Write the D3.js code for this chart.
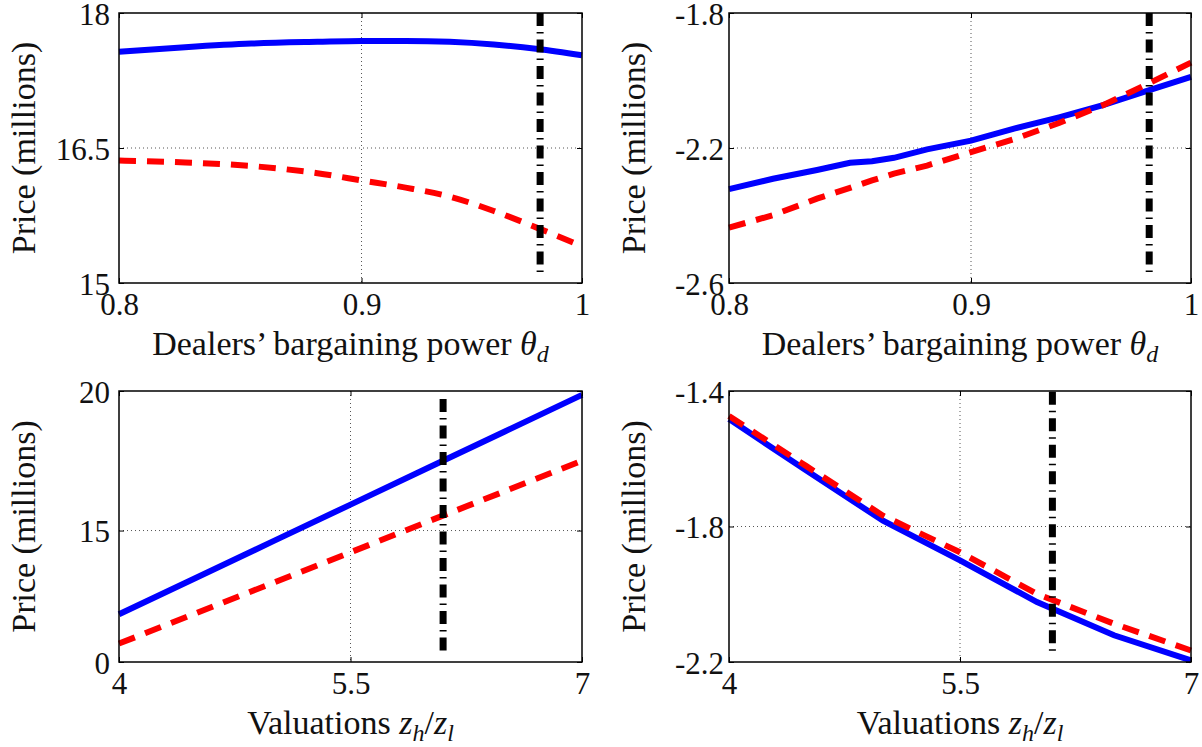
<!DOCTYPE html>
<html>
<head>
<meta charset="utf-8">
<script src="https://cdn.jsdelivr.net/npm/d3@7"></script>
<style>
  body { margin: 0; background: #fff; }
  svg { display: block; font-family: "Liberation Serif", "DejaVu Serif", serif; }
</style>
</head>
<body>
<svg id="fig" width="1202" height="747"></svg>
<script>

// ---- values ----

// top row: dealers' bargaining power
var thetaA  = [0.79, 0.82, 0.85, 0.88, 0.90, 0.92, 0.94, 0.96, 0.98, 1.00];
var solidA  = [17.57, 17.62, 17.66, 17.68, 17.69, 17.69, 17.68, 17.65, 17.60, 17.53];
var dashedA = [16.36, 16.34, 16.30, 16.22, 16.14, 16.06, 15.96, 15.80, 15.61, 15.41];

var thetaB  = [0.79, 0.81, 0.83, 0.845, 0.855, 0.865, 0.88, 0.90, 0.92, 0.94, 0.96, 0.98, 1.00];
var solidB  = [-2.322, -2.291, -2.265, -2.244, -2.239, -2.229, -2.204, -2.178, -2.142, -2.109, -2.073, -2.031, -1.989];
var dashedB = [-2.436, -2.399, -2.350, -2.318, -2.296, -2.276, -2.252, -2.212, -2.173, -2.126, -2.073, -2.011, -1.947];

// bottom row: valuations z_h / z_l
var zC      = [4, 4.5, 5, 5.5, 6, 6.5, 7];
var solidC  = [12.00, 13.31, 14.62, 15.93, 17.24, 18.55, 19.86];
var dashedC = [10.95, 12.04, 13.13, 14.22, 15.32, 16.41, 17.50];

var zD      = [4, 4.5, 5, 5.5, 6, 6.5, 7];
var solidD  = [-1.483, -1.634, -1.783, -1.900, -2.023, -2.121, -2.195];
var dashedD = [-1.474, -1.621, -1.768, -1.876, -1.999, -2.087, -2.166];

// vertical dash-dot marker (x, from, to)
var vlineA = [0.981, 15.10, 18.0];
var vlineB = [0.981, -2.573, -1.8];
var vlineC = [6.1, 10.65, 19.71];
var vlineD = [6.1, -2.170, -1.402];

// ticks
var thetaTicks = [0.79, 0.9, 1];
var thetaTickLabels = ["0.8", "0.9", "1"];
var zTicks = [4, 5.5, 7];
var zTickLabels = ["4", "5.5", "7"];

var yTicksA = [15, 16.5, 18];
var yTickLabelsA = ["15", "16.5", "18"];
var yTicksB = [-2.6, -2.2, -1.8];
var yTickLabelsB = ["-2.6", "-2.2", "-1.8"];
var yTicksC = [10.29, 15, 20];          // bottom tick is labelled "0" in the original
var yTickLabelsC = ["0", "15", "20"];
var yTicksD = [-2.2, -1.8, -1.4];
var yTickLabelsD = ["-2.2", "-1.8", "-1.4"];

var yTitle = "Price (millions)";

// ---- layout ----
var panels = [
  {xs: thetaA, solid: solidA, dashed: dashedA, vline: vlineA, xTicks: thetaTicks, xLab: thetaTickLabels,
   yTicks: yTicksA, yLab: yTickLabelsA, title: "theta", smooth: true, left: 119, top: 13, w: 463, h: 270, gap: 9},
  {xs: thetaB, solid: solidB, dashed: dashedB, vline: vlineB, xTicks: thetaTicks, xLab: thetaTickLabels,
   yTicks: yTicksB, yLab: yTickLabelsB, title: "theta", smooth: false, left: 729, top: 13, w: 462, h: 270, gap: 5},
  {xs: zC, solid: solidC, dashed: dashedC, vline: vlineC, xTicks: zTicks, xLab: zTickLabels,
   yTicks: yTicksC, yLab: yTickLabelsC, title: "z", smooth: false, left: 119, top: 391, w: 463, h: 271, gap: 9},
  {xs: zD, solid: solidD, dashed: dashedD, vline: vlineD, xTicks: zTicks, xLab: zTickLabels,
   yTicks: yTicksD, yLab: yTickLabelsD, title: "z", smooth: false, left: 729, top: 391, w: 462, h: 271, gap: 5}
];

var svg = d3.select("#fig");

panels.forEach(function(p) {
  var g = svg.append("g").attr("transform", "translate(" + p.left + "," + p.top + ")");

  var x = d3.scaleLinear()
    .domain([p.xTicks[0], p.xTicks[p.xTicks.length - 1]])
    .range([0, p.w]);
  var y = d3.scaleLinear()
    .domain([p.yTicks[0], p.yTicks[p.yTicks.length - 1]])
    .range([p.h, 0]);

  //dotted grid at the middle ticks
  g.append("line")
    .attr("x1", x(p.xTicks[1])).attr("x2", x(p.xTicks[1]))
    .attr("y1", 0).attr("y2", p.h)
    .attr("stroke", "#555").attr("stroke-width", 1).attr("stroke-dasharray", "1,3");
  g.append("line")
    .attr("x1", 0).attr("x2", p.w)
    .attr("y1", y(p.yTicks[1])).attr("y2", y(p.yTicks[1]))
    .attr("stroke", "#555").attr("stroke-width", 1).attr("stroke-dasharray", "1,3");

  var line = d3.line()
    .x(function(d, i) { return x(p.xs[i]); })
    .y(function(d) { return y(d); })
    .curve(p.smooth ? d3.curveMonotoneX : d3.curveLinear);

  g.append("path").datum(p.solid)
    .attr("d", line)
    .attr("fill", "none")
    .attr("stroke", "#0000ff")
    .attr("stroke-width", 6);

  g.append("path").datum(p.dashed)
    .attr("d", line)
    .attr("fill", "none")
    .attr("stroke", "#ff0000")
    .attr("stroke-width", 6)
    .attr("stroke-dasharray", "17,11");

  //dash-dot marker
  g.append("line")
    .attr("x1", x(p.vline[0])).attr("x2", x(p.vline[0]))
    .attr("y1", y(p.vline[2])).attr("y2", y(p.vline[1]))
    .attr("stroke", "#000")
    .attr("stroke-width", 7)
    .attr("stroke-dasharray", "13,6,1.5,6");

  //axes
  var xAxis = g.append("g")
    .attr("transform", "translate(0," + p.h + ")")
    .call(d3.axisBottom(x).tickValues(p.xTicks)
      .tickFormat(function(d, i) { return p.xLab[i]; })
      .tickSize(-5).tickSizeOuter(0));
  xAxis.selectAll("text").attr("y", 32).attr("dy", 0);

  var yAxis = g.append("g")
    .call(d3.axisLeft(y).tickValues(p.yTicks)
      .tickFormat(function(d, i) { return p.yLab[i]; })
      .tickSize(-5).tickSizeOuter(0));
  yAxis.selectAll("text").attr("x", -p.gap).attr("dy", "0.36em");

  g.append("g")
    .call(d3.axisTop(x).tickValues(p.xTicks).tickFormat("").tickSize(-5).tickSizeOuter(0));
  g.append("g")
    .attr("transform", "translate(" + p.w + ",0)")
    .call(d3.axisRight(y).tickValues(p.yTicks).tickFormat("").tickSize(-5).tickSizeOuter(0));

  g.selectAll(".domain").remove();
  g.selectAll(".tick line").attr("stroke", "#000");
  g.selectAll(".tick text")
    .attr("font-family", "Liberation Serif, DejaVu Serif, serif")
    .attr("font-size", 31)
    .attr("fill", "#111");

  g.append("rect")
    .attr("width", p.w).attr("height", p.h)
    .attr("fill", "none")
    .attr("stroke", "#000")
    .attr("stroke-width", 1.5);

  //axis titles
  var xt = g.append("text")
    .attr("x", p.w / 2)
    .attr("y", p.h + 72)
    .attr("text-anchor", "middle")
    .attr("font-size", 34)
    .attr("fill", "#111");
  if (p.title == "theta") {
    xt.append("tspan").text("Dealers\u2019 bargaining power ");
    xt.append("tspan").attr("font-style", "italic").text("\u03b8");
    xt.append("tspan").attr("font-style", "italic").attr("font-size", 24).attr("dy", 7).text("d");
  } else {
    xt.append("tspan").text("Valuations ");
    xt.append("tspan").attr("font-style", "italic").text("z");
    xt.append("tspan").attr("font-style", "italic").attr("font-size", 24).attr("dy", 7).text("h");
    xt.append("tspan").attr("dy", -7).text("/");
    xt.append("tspan").attr("font-style", "italic").text("z");
    xt.append("tspan").attr("font-style", "italic").attr("font-size", 24).attr("dy", 7).text("l");
  }

  g.append("text")
    .attr("transform", "translate(-84," + (p.h / 2) + ") rotate(-90)")
    .attr("text-anchor", "middle")
    .attr("font-size", 34)
    .attr("fill", "#111")
    .text(yTitle);
});

</script>
</body>
</html>
